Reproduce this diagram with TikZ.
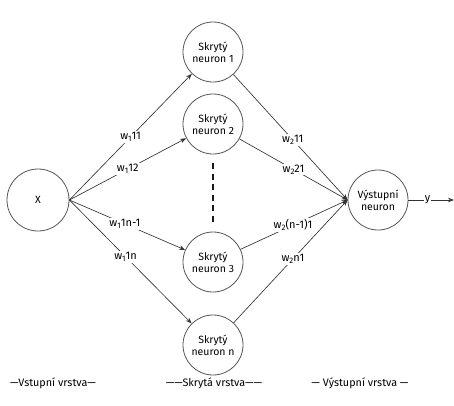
\documentclass[tikz,border=0pt]{standalone}
\usepackage{fontspec}
\setmainfont{Fira Sans}
\usetikzlibrary{arrows.meta}
\definecolor{edgecol}{HTML}{333333}
\definecolor{circcol}{HTML}{555555}
\newcommand{\sbs}[1]{\raisebox{-0.3ex}{\fontsize{8}{9}\selectfont #1}}
\tikzset{
  neuron/.style={circle,draw=circcol,line width=0.8pt,minimum size=60pt,inner sep=0pt,align=center,font=\fontsize{10.5}{12}\selectfont},
  conn/.style={draw=edgecol,line width=0.65pt,-{Stealth[length=6pt,width=4.5pt]}},
  wlab/.style={fill=white,inner sep=1.2pt,font=\fontsize{11}{12}\selectfont,text=black},
  layerlab/.style={font=\fontsize{10.8}{12}\selectfont,text=black}
}
\begin{document}
\begin{tikzpicture}[x=1pt,y=-1pt]
\useasboundingbox (0,0) rectangle (454,405);
\fill[white] (0,0) rectangle (454,405);
\node[neuron,minimum size=62pt] (x) at (38,200) {X};
\node[neuron] (h1) at (213,52) {Skrytý\\neuron 1};
\node[neuron] (h2) at (213,124) {Skrytý\\neuron 2};
\node[neuron] (h3) at (213,262) {Skrytý\\neuron 3};
\node[neuron] (hn) at (213,345) {Skrytý\\neuron n};
\node[neuron] (o) at (378,200) {Výstupní\\neuron};
\coordinate (end) at (454,200);
\coordinate (dtop) at (213,163);
\coordinate (dbot) at (213,222);
\draw[line width=2.2pt,dash pattern=on 6pt off 4.5pt,black!90] (dtop) -- (dbot);
\path[conn] (x.east) -- node[wlab]{w\sbs{1}11} (h1);
\path[conn] (x.east) -- node[wlab]{w\sbs{1}12} (h2);
\path[conn] (x.east) -- node[wlab,pos=0.48]{w\sbs{1}1n-1} (h3);
\path[conn] (x.east) -- node[wlab,pos=0.46]{w\sbs{1}1n} (hn);
\path[conn] (h1) -- node[wlab,pos=0.52]{w\sbs{2}11} (o.west);
\path[conn] (h2) -- node[wlab]{w\sbs{2}21} (o.west);
\path[conn] (h3) -- node[wlab,pos=0.49]{w\sbs{2}(n-1)1} (o.west);
\path[conn] (hn) -- node[wlab,pos=0.52]{w\sbs{2}n1} (o.west);
\path[conn] (o.east) -- node[wlab,pos=0.42]{y} (end);
\node[layerlab] (l1) at (53,383) {—Vstupní vrstva—};
\node[layerlab] (l2) at (214,383) {——Skrytá vrstva——};
\node[layerlab] (l3) at (360,383) {— Výstupní vrstva —};
\end{tikzpicture}
\end{document}
